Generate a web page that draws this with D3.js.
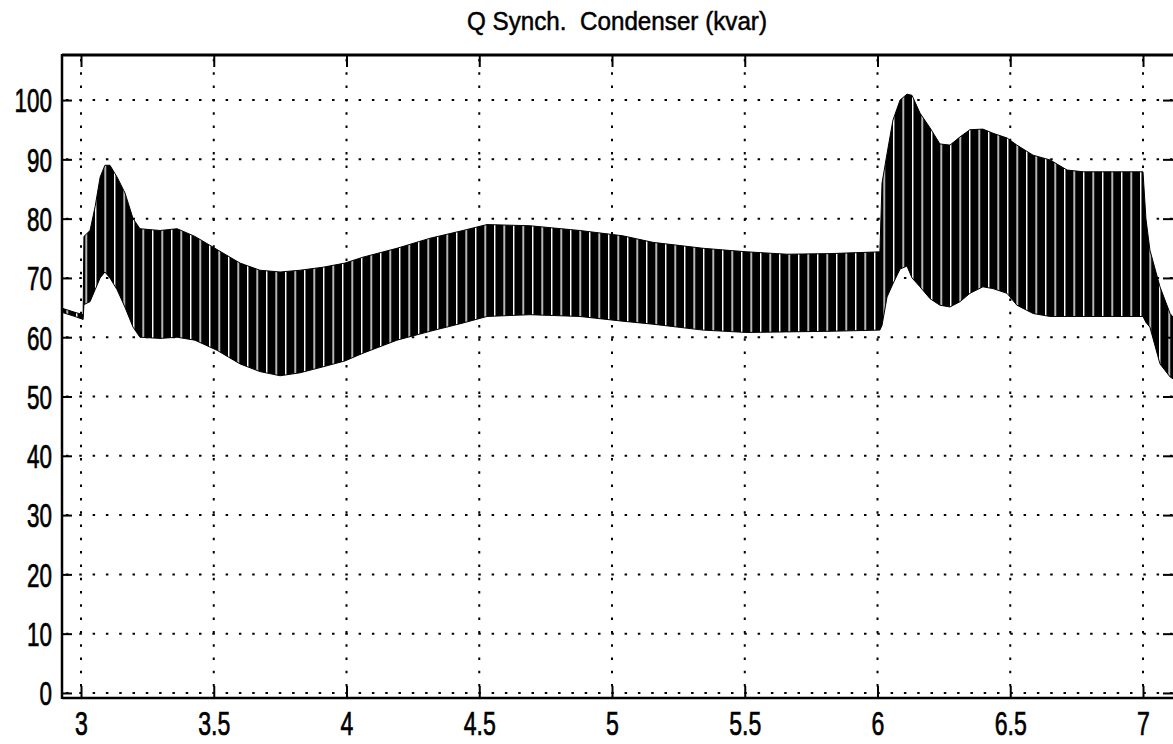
<!DOCTYPE html>
<html><head><meta charset="utf-8">
<script src="https://cdn.jsdelivr.net/npm/d3@7"></script>
<style>body{margin:0;background:#fff;overflow:hidden}</style>
</head><body>
<svg id="c" width="1173" height="744"></svg>
<script>
const titleText = "Q Synch.  Condenser (kvar)";
const xTickValues = [3, 3.5, 4, 4.5, 5, 5.5, 6, 6.5, 7];
const xTickLabels = ["3", "3.5", "4", "4.5", "5", "5.5", "6", "6.5", "7"];
const yTickValues = [0, 10, 20, 30, 40, 50, 60, 70, 80, 90, 100];
const yTickLabels = ["0", "10", "20", "30", "40", "50", "60", "70", "80", "90", "100"];

// time (s) and the upper / lower envelope of the oscillating Q (kvar) band
const time = [2.928, 2.977, 3.008, 3.011, 3.034, 3.053, 3.072, 3.090, 3.109, 3.136, 3.166, 3.196, 3.222,
  3.298, 3.362, 3.429, 3.512, 3.599, 3.674, 3.750, 3.825, 3.911, 3.994, 4.062, 4.190, 4.315, 4.439,
  4.529, 4.691, 4.879, 5.041, 5.154, 5.343, 5.508, 5.659, 5.821, 6.009, 6.017, 6.036, 6.058, 6.085,
  6.111, 6.130, 6.160, 6.198, 6.235, 6.273, 6.311, 6.348, 6.397, 6.435, 6.488, 6.525, 6.586, 6.650,
  6.714, 6.774, 7.000, 7.011, 7.026, 7.064, 7.102, 7.120];
const qUpper = [64.9, 64.2, 63.8, 77.0, 78.0, 82.0, 87.0, 89.0, 89.0, 87.0, 84.3, 80.0, 78.3,
  78.0, 78.3, 77.0, 74.8, 72.5, 71.3, 71.0, 71.3, 71.8, 72.5, 73.5, 75.0, 76.7, 78.0,
  79.0, 78.8, 78.0, 77.1, 76.0, 75.0, 74.4, 74.0, 74.1, 74.4, 86.0, 91.0, 96.6, 100.0,
  101.0, 100.8, 97.8, 95.3, 92.6, 92.4, 93.8, 95.0, 95.1, 94.4, 93.6, 92.4, 90.7, 89.9,
  88.2, 87.9, 87.9, 80.0, 74.7, 68.5, 64.0, 63.0];
const qLower = [64.2, 63.5, 63.0, 65.5, 66.0, 68.0, 70.0, 71.0, 70.0, 68.0, 65.0, 61.7, 60.0,
  59.8, 60.0, 59.5, 57.8, 55.5, 54.2, 53.5, 54.0, 55.0, 56.0, 57.3, 59.5, 61.0, 62.4,
  63.5, 63.8, 63.5, 62.7, 62.2, 61.2, 60.8, 60.9, 61.0, 61.2, 62.0, 66.8, 69.0, 71.5,
  72.0, 70.0, 68.5, 66.5, 65.4, 65.1, 66.0, 67.4, 68.5, 68.2, 67.4, 65.4, 64.0, 63.5,
  63.5, 63.5, 63.5, 62.5, 61.7, 55.5, 53.3, 52.8];

const svg = d3.select("#c");
const L = 62, R = 1175, T = 55, B = 698;
const x = d3.scaleLinear().domain([2.9284, 7.1205]).range([L, R]);
const y = d3.scaleLinear().domain([-0.85, 107.6]).range([B, T]);

const defs = svg.append("defs");
defs.append("clipPath").attr("id", "clip").append("rect")
  .attr("x", L).attr("y", T).attr("width", R - L).attr("height", B - T);
const pat = defs.append("pattern").attr("id", "stripes").attr("patternUnits", "userSpaceOnUse")
  .attr("width", 9.5).attr("height", 20);
pat.append("rect").attr("width", 9.5).attr("height", 20).attr("fill", "#000");
pat.append("rect").attr("x", 0).attr("width", 1.4).attr("height", 20).attr("fill", "#fff");

// grid
const grid = svg.append("g").attr("stroke", "#000").attr("stroke-width", 2).attr("stroke-dasharray", "2.5 10.8");
grid.selectAll(".hg").data(yTickValues).join("line")
  .attr("x1", L + 4).attr("x2", R).attr("y1", d => y(d)).attr("y2", d => y(d));
grid.selectAll(".vg").data(xTickValues).join("line")
  .attr("y1", T + 4).attr("y2", B).attr("x1", d => x(d)).attr("x2", d => x(d));

// data band
const pts = time.map((t, i) => ({t, u: qUpper[i], l: qLower[i]}));
const area = d3.area().x(d => x(d.t)).y0(d => y(d.l)).y1(d => y(d.u));
svg.append("path").datum(pts).attr("clip-path", "url(#clip)")
  .attr("d", area).attr("fill", "url(#stripes)").attr("stroke", "#000").attr("stroke-width", 1);

// axes
const fontFam = "'Liberation Sans', Arial, sans-serif";
const ax = svg.append("g").attr("transform", `translate(${L},0)`)
  .call(d3.axisLeft(y).tickValues(yTickValues).tickFormat((d, i) => yTickLabels[i]).tickSizeInner(-10).tickSizeOuter(0));
ax.select(".domain").remove();
ax.selectAll(".tick line").attr("stroke", "#000").attr("stroke-width", 2);
ax.selectAll(".tick text").attr("x", 0).attr("dy", "0.36em").attr("text-anchor", "end")
  .attr("transform", "translate(-10,0) scale(0.68,1)")
  .style("font-family", fontFam).style("font-size", "33px").attr("fill", "#000")
  .attr("stroke", "#000").attr("stroke-width", 0.7);

const axr = svg.append("g").attr("transform", `translate(${R},0)`)
  .call(d3.axisRight(y).tickValues(yTickValues).tickSizeInner(-12).tickSizeOuter(0));
axr.select(".domain").remove();
axr.selectAll(".tick text").remove();
axr.selectAll(".tick line").attr("stroke", "#000").attr("stroke-width", 2);

const axb = svg.append("g").attr("transform", `translate(0,${B})`)
  .call(d3.axisBottom(x).tickValues(xTickValues).tickFormat((d, i) => xTickLabels[i]).tickSizeInner(-12).tickSizeOuter(0));
axb.select(".domain").remove();
axb.selectAll(".tick line").attr("stroke", "#000").attr("stroke-width", 2);
axb.selectAll(".tick text").attr("y", 0).attr("dy", 0).attr("text-anchor", "middle")
  .attr("transform", "translate(0,37) scale(0.7,1)")
  .style("font-family", fontFam).style("font-size", "33px").attr("fill", "#000")
  .attr("stroke", "#000").attr("stroke-width", 0.7);

const axt = svg.append("g").attr("transform", `translate(0,${T})`)
  .call(d3.axisTop(x).tickValues(xTickValues).tickSizeInner(-12).tickSizeOuter(0));
axt.select(".domain").remove();
axt.selectAll(".tick text").remove();
axt.selectAll(".tick line").attr("stroke", "#000").attr("stroke-width", 2);

// frame
svg.append("line").attr("x1", L).attr("x2", L).attr("y1", T - 1).attr("y2", B + 1).attr("stroke", "#000").attr("stroke-width", 2.5);
svg.append("line").attr("x1", L).attr("x2", R).attr("y1", T).attr("y2", T).attr("stroke", "#000").attr("stroke-width", 3);
svg.append("line").attr("x1", L).attr("x2", R).attr("y1", B).attr("y2", B).attr("stroke", "#000").attr("stroke-width", 2.5);

// title
svg.append("text").attr("x", 617).attr("y", 30).attr("text-anchor", "middle")
  .attr("textLength", 300).attr("lengthAdjust", "spacingAndGlyphs")
  .style("font-family", fontFam).style("font-size", "25px").attr("fill", "#000")
  .attr("stroke", "#000").attr("stroke-width", 0.5)
  .style("white-space", "pre").text(titleText);
</script>
</body></html>
